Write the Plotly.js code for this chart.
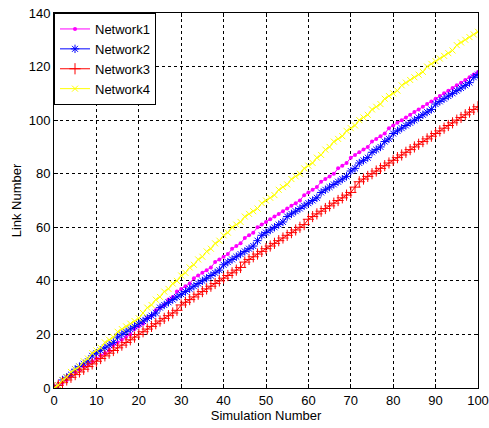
<!DOCTYPE html>
<html>
<head>
<meta charset="utf-8">
<script src="https://cdn.plot.ly/plotly-3.0.1.min.js"></script>
<style>html,body{margin:0;padding:0;background:#fff}#chart{width:489px;height:428px}</style>
</head>
<body>
<div id="chart"></div>
<script>
const simulation = [];
for (let i = 0; i <= 100; i++) simulation.push(i);

const seriesNames = ["Network1", "Network2", "Network3", "Network4"];

const network1 = [0,1,2,3,5,6,7,8,9,10,11,
  12,13,14,16,17,18,19,20,22,23,
  24,26,27,29,30,31,33,34,36,37,
  38,39,41,42,43,44,45,47,48,49,
  50,52,53,54,56,57,58,60,61,62,
  63,64,65,66,67,68,69,70,72,73,
  74,75,77,78,79,80,82,83,84,86,
  87,88,89,90,92,93,94,95,97,98,
  99,100,101,102,103,104,105,106,107,108,
  109,110,111,112,113,114,115,116,117,118];

const network2 = [0,1,3,4,5,7,8,9,10,12,13,
  14,15,16,17,19,20,21,22,23,24,
  25,26,27,28,30,31,32,33,34,35,
  36,37,38,39,40,41,42,43,44,46,
  47,48,49,50,51,52,53,55,57,58,
  59,60,61,62,64,65,66,67,68,69,
  70,71,73,74,75,76,77,78,79,81,
  82,84,85,86,88,89,90,92,93,95,
  96,97,98,99,100,101,102,103,104,106,
  107,108,109,110,111,112,113,114,116,117];

const network3 = [0,1,2,3,4,5,6,7,8,9,10,
  11,12,13,14,15,16,17,18,19,20,
  21,22,23,24,25,26,27,28,29,31,
  32,33,34,35,36,37,38,39,40,41,
  42,43,44,45,47,48,49,50,51,52,
  53,54,55,56,57,58,59,60,61,63,
  64,65,66,67,68,69,70,71,72,73,
  75,77,78,79,80,81,82,83,84,85,
  86,87,88,89,90,91,92,93,94,95,
  96,97,98,99,100,101,102,103,104,105];

const network4 = [0,1,3,4,6,7,8,10,11,13,14,
  15,17,18,19,21,22,23,24,25,26,
  28,30,31,33,34,36,37,39,40,42,
  43,45,46,48,49,51,52,54,55,57,
  58,60,61,62,64,65,66,67,69,70,
  71,72,74,75,76,78,79,80,82,83,
  84,86,87,89,90,92,93,94,96,97,
  98,100,101,102,104,105,106,108,109,110,
  111,113,114,115,116,117,118,120,121,122,
  123,124,125,126,128,129,130,131,132,133];

const xTicks = [0,10,20,30,40,50,60,70,80,90,100];
const yTicks = [0,20,40,60,80,100,120,140];

const styles = [
  {color: "#ff00ff", symbol: "circle", size: 4, lw: 0},
  {color: "#0000ff", symbol: "asterisk-open", size: 7, lw: 1},
  {color: "#ff0000", symbol: "cross-thin-open", size: 8, lw: 1},
  {color: "#ffff00", symbol: "x-thin-open", size: 6, lw: 1}
];
const values = [network1, network2, network3, network4];

const traces = values.map((v, i) => ({
  x: simulation, y: v, name: seriesNames[i], type: "scatter", mode: "lines+markers",
  line: {color: styles[i].color, width: 1},
  marker: {color: styles[i].color, symbol: styles[i].symbol, size: styles[i].size,
           line: {color: styles[i].color, width: styles[i].lw}}
}));

const axisCommon = {
  showline: true, linecolor: "#000", linewidth: 1, mirror: "ticks",
  ticks: "inside", ticklen: 4, tickcolor: "#000",
  showgrid: true, gridcolor: "#000", gridwidth: 1, griddash: "3px,3px",
  zeroline: false, tickfont: {family: "Liberation Sans, Arial", size: 13, color: "#000"}
};

const layout = {
  width: 489, height: 428,
  margin: {l: 54, r: 11, t: 13, b: 40},
  paper_bgcolor: "#fff", plot_bgcolor: "#fff",
  font: {family: "Liberation Sans, Arial", size: 13, color: "#000"},
  xaxis: Object.assign({}, axisCommon, {range: [0, 100], tickvals: xTicks,
    title: {text: "Simulation Number", standoff: 4, font: {size: 13}}}),
  yaxis: Object.assign({}, axisCommon, {range: [0, 140], tickvals: yTicks,
    title: {text: "Link Number", standoff: 4, font: {size: 13}}}),
  legend: {x: 0, y: 1, xanchor: "left", yanchor: "top", bgcolor: "#fff",
    bordercolor: "#000", borderwidth: 1, font: {size: 13}, tracegroupgap: 0},
  showlegend: true
};

Plotly.newPlot("chart", traces, layout, {staticPlot: true, displayModeBar: false});
</script>
</body>
</html>
